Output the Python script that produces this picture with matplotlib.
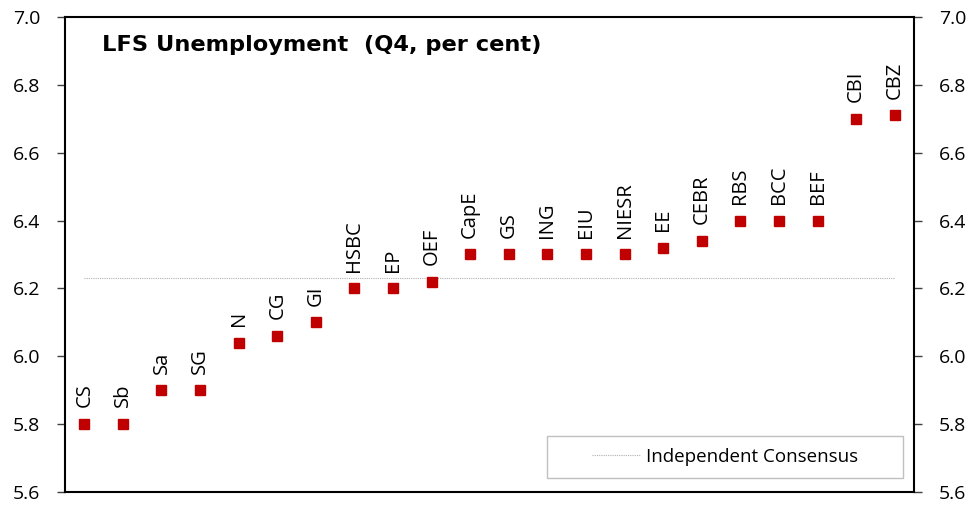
import matplotlib
matplotlib.use("Agg")
import matplotlib.pyplot as plt
from matplotlib.patches import Rectangle
import numpy as np

plt.rcParams['font.family'] = ['Open Sans', 'DejaVu Sans']

# forecasters and their Q4 LFS unemployment forecast
names = ["CS", "Sb", "Sa", "SG", "N", "CG", "GI", "HSBC", "EP", "OEF", "CapE",
         "GS", "ING", "EIU", "NIESR", "EE", "CEBR", "RBS", "BCC", "BEF", "CBI", "CBZ"]
values = [5.80, 5.80, 5.90, 5.90, 6.04, 6.06, 6.10, 6.20, 6.20, 6.22, 6.30,
          6.30, 6.30, 6.30, 6.30, 6.32, 6.34, 6.40, 6.40, 6.40, 6.70, 6.71]
consensus = 6.23
yticks = [5.6, 5.8, 6.0, 6.2, 6.4, 6.6, 6.8, 7.0]

fig = plt.figure(figsize=(9.72, 5.07), dpi=100)
ax = fig.add_axes([0.0669, 0.0296, 0.8734, 0.9369])

x = np.arange(len(names))
ax.plot(x, values, linestyle='none', marker='s', markersize=6.5,
        color='#c00000', zorder=3)
ax.plot([x[0], x[-1]], [consensus, consensus], color='#b0b0b0', lw=0.8,
        linestyle=(0, (1, 1)), label='Independent Consensus', zorder=2)

for xi, v, n in zip(x, values, names):
    ax.annotate(n, (xi, v), xytext=(0, 12), textcoords='offset points',
                rotation=90, ha='center', va='bottom', fontsize=14.5)

ax.set_xlim(-0.5, len(names) - 0.5)
ax.set_ylim(5.6, 7.0)
ax.set_xticks([])
ax.set_yticks(yticks)
ax.set_yticklabels([f"{t:.1f}" for t in yticks], fontsize=14)
ax.tick_params(axis='y', direction='out', length=6, width=1, pad=12,
               right=True, labelright=True, color='#404040')
for s in ax.spines.values():
    s.set_linewidth(1.5)
    s.set_color('black')

ax.text(0.0436, 0.94, "LFS Unemployment  (Q4, per cent)", transform=ax.transAxes,
        fontsize=16.2, fontweight='bold', va='center', family='DejaVu Sans')

# legend frame drawn separately so it can be wider than its content
ax.add_patch(Rectangle((0.568, 0.0295), 0.419, 0.0885, transform=ax.transAxes,
                       facecolor='white', edgecolor='#c0c0c0', lw=1, zorder=4))
leg = ax.legend(loc='center', bbox_to_anchor=(0.7775, 0.074), fontsize=13.5,
                frameon=False, handlelength=2.56, handletextpad=0.37,
                borderaxespad=0)
leg.set_zorder(5)

fig.savefig("out.png", dpi=100)
